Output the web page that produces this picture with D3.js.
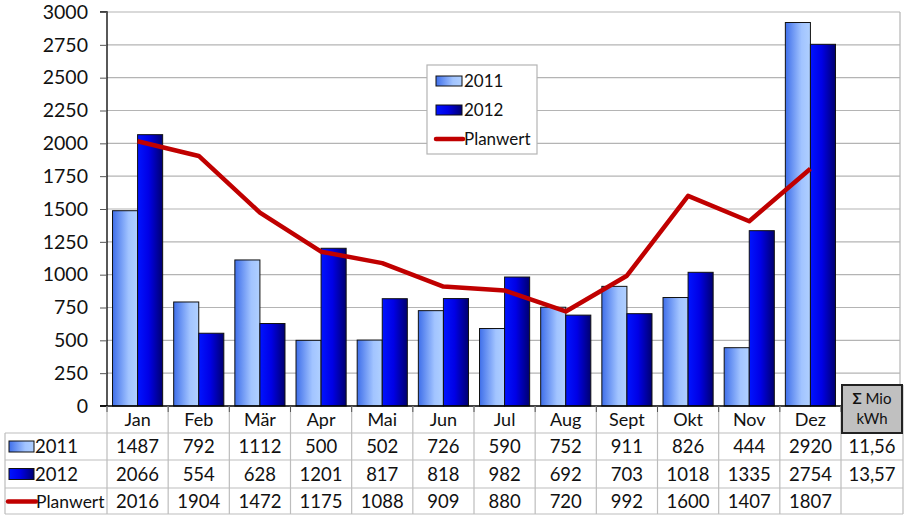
<!DOCTYPE html>
<html><head><meta charset="utf-8">
<script src="https://cdn.jsdelivr.net/npm/d3@7"></script>
<style>body{margin:0;background:#fff}svg{display:block}</style>
</head><body>
<svg id="c" width="910" height="520"></svg>
<script>
const months = ["Jan","Feb","Mär","Apr","Mai","Jun","Jul","Aug","Sept","Okt","Nov","Dez"];
const values2011 = [1487,792,1112,500,502,726,590,752,911,826,444,2920];
const values2012 = [2066,554,628,1201,817,818,982,692,703,1018,1335,2754];
const planwert = [2016,1904,1472,1175,1088,909,880,720,992,1600,1407,1807];
const sums = ["11,56","13,57",""];
const yTicks = d3.range(0, 3001, 250);
const seriesNames = ["2011","2012","Planwert"];

const FONT = "Lato, 'Open Sans', sans-serif";
const svg = d3.select("#c");
const L = 107, R = 841, T = 12, B = 406, RE = 903;
const x = d3.scaleBand().domain(months).range([L, R]).padding(0);
const x1 = d3.scaleBand().domain(["2011","2012"]).range([0, x.bandwidth()]).paddingInner(0).paddingOuter(0.22);
const y = d3.scaleLinear().domain([0, 3000]).range([B, T]);

const defs = svg.append("defs");
const g1 = defs.append("linearGradient").attr("id","g2011");
[["0%","#3f6fea"],["65%","#a2c4ff"],["100%","#b0d0ff"]].forEach(s=>g1.append("stop").attr("offset",s[0]).attr("stop-color",s[1]));
const g2 = defs.append("linearGradient").attr("id","g2012");
[["0%","#0014ff"],["45%","#0000e6"],["100%","#000070"]].forEach(s=>g2.append("stop").attr("offset",s[0]).attr("stop-color",s[1]));

svg.append("g").selectAll("line").data(yTicks.filter(d=>d>0)).join("line")
  .attr("x1", L).attr("x2", 900).attr("y1", d=>y(d)).attr("y2", d=>y(d))
  .attr("stroke", "#b4b4b4").attr("stroke-width", 1.2);
svg.append("line").attr("x1",900).attr("x2",900).attr("y1",T).attr("y2",385).attr("stroke","#b4b4b4").attr("stroke-width",1.2);

const groups = svg.append("g").selectAll("g").data(months).join("g")
  .attr("transform", d=>`translate(${x(d)},0)`);
groups.append("rect")
  .attr("x", x1("2011")).attr("width", x1.bandwidth())
  .attr("y", (d,i)=>y(values2011[i])).attr("height", (d,i)=>B - y(values2011[i]))
  .attr("fill","url(#g2011)").attr("stroke","#111").attr("stroke-width",1);
groups.append("rect")
  .attr("x", x1("2012")).attr("width", x1.bandwidth())
  .attr("y", (d,i)=>y(values2012[i])).attr("height", (d,i)=>B - y(values2012[i]))
  .attr("fill","url(#g2012)").attr("stroke","#111").attr("stroke-width",1);

const line = d3.line().x((d,i)=>x(months[i]) + x.bandwidth()/2).y(d=>y(d));
svg.append("path").datum(planwert).attr("d", line)
  .attr("fill","none").attr("stroke","#c00000").attr("stroke-width",4.5).attr("stroke-linejoin","round");

const yAxis = d3.axisLeft(y).tickValues(yTicks).tickSize(7).tickPadding(12).tickFormat(d3.format("d"));
const ya = svg.append("g").attr("transform",`translate(${L},0)`).call(yAxis);
ya.select(".domain").attr("stroke","#000").attr("stroke-width",1.3).attr("d",`M-7,${T}H0V${B}H-7`);
ya.selectAll(".tick line").attr("stroke","#555");
ya.selectAll("text").attr("font-family",FONT).attr("font-size",19.5).attr("fill","#111");

svg.append("line").attr("x1",L-7).attr("x2",R).attr("y1",B).attr("y2",B).attr("stroke","#000").attr("stroke-width",1.3);

const rowY = [B, 433, 460, 488, 514];
const tbl = svg.append("g");
const gridC = "#bdbdbd";
tbl.selectAll("line.h").data([433,460,488,514]).join("line")
  .attr("x1",5).attr("x2",RE).attr("y1",d=>d).attr("y2",d=>d).attr("stroke",gridC).attr("stroke-width",1.2);
const vx = months.map(m=>x(m)).concat([R]);
tbl.selectAll("line.v").data(vx).join("line")
  .attr("x1",d=>d).attr("x2",d=>d).attr("y1",B).attr("y2",514).attr("stroke",gridC).attr("stroke-width",1.2);
tbl.append("line").attr("x1",5).attr("x2",5).attr("y1",433).attr("y2",514).attr("stroke",gridC).attr("stroke-width",1.2);
tbl.append("line").attr("x1",RE).attr("x2",RE).attr("y1",385).attr("y2",514).attr("stroke",gridC).attr("stroke-width",1.2);
tbl.selectAll("line.t").data(vx).join("line")
  .attr("x1",d=>d).attr("x2",d=>d).attr("y1",B).attr("y2",B+6).attr("stroke","#555").attr("stroke-width",1);

tbl.selectAll("text.m").data(months).join("text")
  .attr("x", d=>x(d)+x.bandwidth()/2).attr("y", 426).attr("text-anchor","middle")
  .attr("font-family",FONT).attr("font-size",18).attr("fill","#111").text(d=>d);

const rows = [values2011, values2012, planwert];
rows.forEach((vals, r)=>{
  const cy = (rowY[r+1] + rowY[r+2]) / 2 + 6.5;
  tbl.selectAll(null).data(vals).join("text")
    .attr("x",(d,i)=>x(months[i])+x.bandwidth()/2).attr("y",cy).attr("text-anchor","middle")
    .attr("font-family",FONT).attr("font-size",18.5).attr("fill","#111").text(d=>d);
  tbl.append("text").attr("x",(R+RE)/2).attr("y",cy).attr("text-anchor","middle")
    .attr("font-family",FONT).attr("font-size",18.5).attr("fill","#111").text(sums[r]);
  if (r < 2) {
    tbl.append("rect").attr("x",9).attr("y",cy-12).attr("width",25).attr("height",11)
      .attr("fill", r===0 ? "url(#g2011)" : "url(#g2012)").attr("stroke","#111").attr("stroke-width",1);
    tbl.append("text").attr("x",35).attr("y",cy).attr("font-family",FONT).attr("font-size",18.5).attr("fill","#111").text(seriesNames[r]);
  } else {
    tbl.append("line").attr("x1",8).attr("x2",36).attr("y1",cy-6).attr("y2",cy-6).attr("stroke","#c00000").attr("stroke-width",4.5).attr("stroke-linecap","round");
    tbl.append("text").attr("x",36).attr("y",cy).attr("font-family",FONT).attr("font-size",17.5).attr("fill","#111").text(seriesNames[r]);
  }
});

svg.append("rect").attr("x",R+1).attr("y",385).attr("width",RE-R-2).attr("height",48)
  .attr("fill","#c0c0c0").attr("stroke","#222").attr("stroke-width",2);
const st = svg.append("text").attr("x",(R+RE)/2).attr("y",404).attr("text-anchor","middle")
  .attr("font-family",FONT).attr("font-size",15).attr("fill","#111");
st.append("tspan").attr("font-weight","bold").text("Σ");
st.append("tspan").text(" Mio");
svg.append("text").attr("x",(R+RE)/2).attr("y",424).attr("text-anchor","middle")
  .attr("font-family",FONT).attr("font-size",15).attr("fill","#111").text("kWh");

const lg = svg.append("g");
lg.append("rect").attr("x",427).attr("y",65).attr("width",110).attr("height",89)
  .attr("fill","#fff").attr("stroke","#b4b4b4").attr("stroke-width",1.2);
const legY = [81, 110, 139];
seriesNames.forEach((s,i)=>{
  if (i<2) {
    lg.append("rect").attr("x",436).attr("y",legY[i]-5).attr("width",26).attr("height",10)
      .attr("fill", i===0?"url(#g2011)":"url(#g2012)").attr("stroke","#111").attr("stroke-width",1);
  } else {
    lg.append("line").attr("x1",436).attr("x2",463).attr("y1",legY[i]).attr("y2",legY[i])
      .attr("stroke","#c00000").attr("stroke-width",4.5).attr("stroke-linecap","round");
  }
  lg.append("text").attr("x",464).attr("y",legY[i]+6).attr("font-family",FONT).attr("font-size",17).attr("fill","#111").text(s);
});
</script>
</body></html>
